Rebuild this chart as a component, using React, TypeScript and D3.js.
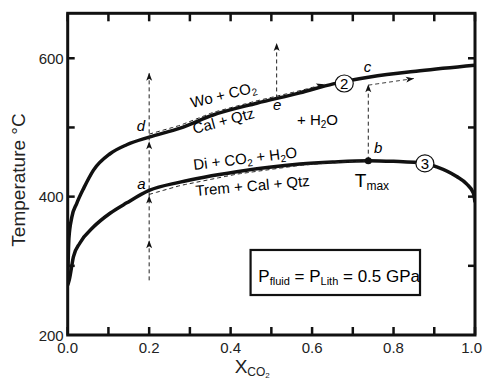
import React from "react";
import * as d3 from "d3";

const W = 483;
const H = 381;

// axis ticks
const xTicks = [0, 0.1, 0.2, 0.3, 0.4, 0.5, 0.6, 0.7, 0.8, 0.9, 1.0];
const xTickLabels = [0, 0.2, 0.4, 0.6, 0.8, 1.0];
const yTicks = [300, 400, 500, 600];
const yTickLabels = [200, 400, 600];

// reaction (2): Cal + Qtz = Wo + CO2
const curve2X = [0, 0.003, 0.01, 0.022, 0.04, 0.063, 0.104, 0.145, 0.2, 0.276, 0.357, 0.464, 0.57, 0.652, 0.742, 0.865, 1.0];
const curve2T = [275, 340, 370, 390, 413, 438, 462, 475, 486, 499, 518, 535, 550, 563, 573, 582, 590];

// reaction (3): Trem + Cal + Qtz = Di + CO2 + H2O
const curve3X = [0, 0.004, 0.014, 0.03, 0.063, 0.104, 0.145, 0.2, 0.276, 0.415, 0.57, 0.65, 0.738, 0.8, 0.877, 0.906, 0.955, 0.98, 0.996, 1.0];
const curve3T = [272, 280, 313, 333, 356, 376, 391, 409, 421, 436, 447, 450, 452, 451, 448, 443, 429, 418, 405, 392];

// path points
const xA = 0.2; // points a, d
const xE = 0.513; // point e
const xTmax = 0.738; // points b, c, Tmax
const xArrowEnd2 = 0.63;
const xArrowEndC = 0.85;
const tStartV1 = 279;
const tArrowV1 = 337;
const tTopV1 = 579;
const tTopE = 622;

const FONT = "'Liberation Sans', Arial, Helvetica, sans-serif";

const x = d3.scaleLinear().domain([0, 1]).range([67.7, 475]);
const y = d3.scaleLinear().domain([200, 665]).range([335, 13.3]);

function interp(xs: number[], ts: number[], v: number) {
  const i = Math.min(Math.max(d3.bisectRight(xs, v), 1), xs.length - 1);
  const t = (v - xs[i - 1]) / (xs[i] - xs[i - 1]);
  return ts[i - 1] + t * (ts[i] - ts[i - 1]);
}

function offsetPath(xs: number[], ts: number[], x0: number, x1: number, off0: number, off1: number) {
  const n = 60;
  const pts: [number, number][] = [];
  for (let k = 0; k <= n; k++) {
    const v = x0 + ((x1 - x0) * k) / n;
    const off = off0 + ((off1 - off0) * k) / n;
    pts.push([x(v), y(interp(xs, ts, v)) + off]);
  }
  return pts;
}

function Arrow({ px, py, angle }: { px: number; py: number; angle: number }) {
  const L = 8;
  const hw = 3;
  return (
    <polygon
      points={`0,0 ${-L},${-hw} ${-L + 2},0 ${-L},${hw}`}
      transform={`translate(${px},${py}) rotate(${angle})`}
      fill="#111"
    />
  );
}

function arrowAtEnd(pts: [number, number][]) {
  const a = pts[pts.length - 3];
  const b = pts[pts.length - 1];
  const ang = (Math.atan2(b[1] - a[1], b[0] - a[0]) * 180) / Math.PI;
  return <Arrow px={b[0]} py={b[1]} angle={ang} />;
}

export default function App() {
  const mk = (xs: number[], ts: number[]) =>
    d3
      .line<number>()
      .x((d) => x(d))
      .y((_, i) => y(ts[i]))
      .curve(d3.curveMonotoneX)(xs) as string;

  const pathC2 = mk(curve2X, curve2T);
  const pathC3 = mk(curve3X, curve3T);
  const lin = d3.line();

  const dash2 = offsetPath(curve2X, curve2T, xA, xArrowEnd2, -3, -2);
  const dashC = offsetPath(curve2X, curve2T, xTmax, xArrowEndC, 8, 7);
  const dash3 = offsetPath(curve3X, curve3T, xA, xTmax, 4, 0);

  const yA = y(interp(curve3X, curve3T, xA));
  const yD = y(interp(curve2X, curve2T, xA));
  const yE = y(interp(curve2X, curve2T, xE));
  const yB = y(interp(curve3X, curve3T, xTmax));
  const yC = y(interp(curve2X, curve2T, xTmax));

  const dashStyle = { fill: "none", stroke: "#222", strokeWidth: 1, strokeDasharray: "4,3" };
  const italic = { fontStyle: "italic" as const };

  const x0 = x(0), x1 = x(1), yb = y(200), yt = y(665);

  return (
    <svg width={W} height={H} style={{ position: "absolute", left: 0, top: 0, background: "#fff" }} fontFamily={FONT}>
      <rect width={W} height={H} fill="#fff" />
      <defs>
        <clipPath id="plot">
          <rect x={x0} y={yt} width={x1 - x0} height={yb - yt} />
        </clipPath>
      </defs>

      {/* curves */}
      <g clipPath="url(#plot)">
        <path d={pathC2} fill="none" stroke="#111" strokeWidth={3.5} />
        <path d={pathC3} fill="none" stroke="#111" strokeWidth={3.5} />
      </g>

      {/* dashed reaction paths */}
      <path d={lin(dash2) as string} {...dashStyle} />
      {arrowAtEnd(dash2)}
      <path d={lin(dashC) as string} {...dashStyle} />
      {arrowAtEnd(dashC)}
      <path d={lin(dash3) as string} {...dashStyle} />

      {/* vertical dashed at X=0.2 */}
      <line x1={x(xA)} x2={x(xA)} y1={y(tStartV1)} y2={y(tTopV1)} {...dashStyle} />
      <Arrow px={x(xA)} py={y(tArrowV1)} angle={-90} />
      <Arrow px={x(xA)} py={yA + 5} angle={-90} />
      <Arrow px={x(xA)} py={yD + 4} angle={-90} />
      <Arrow px={x(xA)} py={y(tTopV1)} angle={-90} />

      {/* vertical dashed at e */}
      <line x1={x(xE)} x2={x(xE)} y1={yE} y2={y(tTopE)} {...dashStyle} />
      <Arrow px={x(xE)} py={y(tTopE)} angle={-90} />

      {/* b -> c */}
      <line x1={x(xTmax)} x2={x(xTmax)} y1={yB} y2={yC + 7} {...dashStyle} />
      <Arrow px={x(xTmax)} py={yC + 7} angle={-90} />
      <circle cx={x(xTmax)} cy={yB} r={3.5} fill="#111" />

      {/* circled numbers */}
      <ellipse cx={x(0.679)} cy={y(563.5)} rx={9} ry={8.5} fill="#fff" stroke="#111" strokeWidth={1.2} />
      <text x={x(0.679)} y={y(563.5) + 5.5} fontSize={15} textAnchor="middle">2</text>
      <ellipse cx={x(0.877)} cy={y(448)} rx={9} ry={8.5} fill="#fff" stroke="#111" strokeWidth={1.2} />
      <text x={x(0.877)} y={y(448) + 5.5} fontSize={15} textAnchor="middle">3</text>

      {/* reaction labels */}
      <text transform={`translate(${x(0.305)},${y(528)}) rotate(-14)`} fontSize={15}>
        Wo + CO<tspan fontSize={10} dy={3}>2</tspan>
      </text>
      <text transform={`translate(${x(0.311)},${y(490.5)}) rotate(-15)`} fontSize={15}>
        Cal + Qtz
      </text>
      <text x={x(0.563)} y={y(503.6)} fontSize={15}>
        + H<tspan fontSize={10} dy={3}>2</tspan><tspan dy={-3}>O</tspan>
      </text>
      <text transform={`translate(${x(0.31)},${y(438.5)}) rotate(-7)`} fontSize={15}>
        Di + CO<tspan fontSize={10} dy={3}>2</tspan><tspan dy={-3}> + H</tspan><tspan fontSize={10} dy={3}>2</tspan><tspan dy={-3}>O</tspan>
      </text>
      <text transform={`translate(${x(0.315)},${y(401)}) rotate(-5)`} fontSize={15}>
        Trem + Cal + Qtz
      </text>

      {/* point labels */}
      <text x={x(0.18)} y={y(495)} fontSize={15} textAnchor="middle" {...italic}>d</text>
      <text x={x(0.181)} y={y(411)} fontSize={15} textAnchor="middle" {...italic}>a</text>
      <text x={x(0.514)} y={y(525)} fontSize={15} textAnchor="middle" {...italic}>e</text>
      <text x={x(0.736)} y={y(580)} fontSize={15} textAnchor="middle" {...italic}>c</text>
      <text x={x(0.762)} y={y(463)} fontSize={15} textAnchor="middle" {...italic}>b</text>
      <text x={x(0.705)} y={y(414)} fontSize={19}>
        T<tspan fontSize={12} dy={3}>max</tspan>
      </text>

      {/* pressure box */}
      <rect x={x(0.449)} y={y(322.9)} width={x(0.865) - x(0.449)} height={y(257.8) - y(322.9)} fill="#fff" stroke="#111" strokeWidth={2.2} />
      <text x={x(0.4495) + 7.5} y={y(257.8) - 13.5} fontSize={17}>
        P<tspan fontSize={11} dy={3}>fluid</tspan><tspan dy={-3}> = P</tspan><tspan fontSize={11} dy={3}>Lith</tspan><tspan dy={-3}> = 0.5 GPa</tspan>
      </text>

      {/* frame */}
      <rect x={x0} y={yt} width={x1 - x0} height={yb - yt} fill="none" stroke="#111" strokeWidth={3} />

      {/* ticks */}
      {xTicks.map((t) => (
        <g key={"xt" + t}>
          <line x1={x(t)} x2={x(t)} y1={yb} y2={yb - 8} stroke="#111" strokeWidth={2.5} />
          <line x1={x(t)} x2={x(t)} y1={yt} y2={yt + 8} stroke="#111" strokeWidth={2.5} />
        </g>
      ))}
      {yTicks.map((t) => (
        <g key={"yt" + t}>
          <line x1={x0} x2={x0 + 7} y1={y(t)} y2={y(t)} stroke="#111" strokeWidth={2.5} />
          <line x1={x1} x2={x1 - 7} y1={y(t)} y2={y(t)} stroke="#111" strokeWidth={2.5} />
        </g>
      ))}

      {/* tick labels */}
      {xTickLabels.map((t) => {
        const last = t === 1;
        return (
          <text
            key={"xl" + t}
            x={last ? W - 1 : x(t)}
            y={yb + 18}
            fontSize={15}
            textAnchor={last ? "end" : "middle"}
            fill="#222"
          >
            {d3.format(".1f")(t)}
          </text>
        );
      })}
      {yTickLabels.map((t) => (
        <text key={"yl" + t} x={x0 - 4} y={y(t) + 5.5} fontSize={15} textAnchor="end" fill="#222">
          {t}
        </text>
      ))}

      {/* axis titles */}
      <text x={x(0.453)} y={373} fontSize={19} textAnchor="middle" fill="#222">
        X<tspan fontSize={12} dy={3}>CO</tspan><tspan fontSize={8} dy={2}>2</tspan>
      </text>
      <text transform={`translate(25,180) rotate(-90)`} fontSize={19} textAnchor="middle" fill="#222">
        Temperature °C
      </text>
    </svg>
  );
}
